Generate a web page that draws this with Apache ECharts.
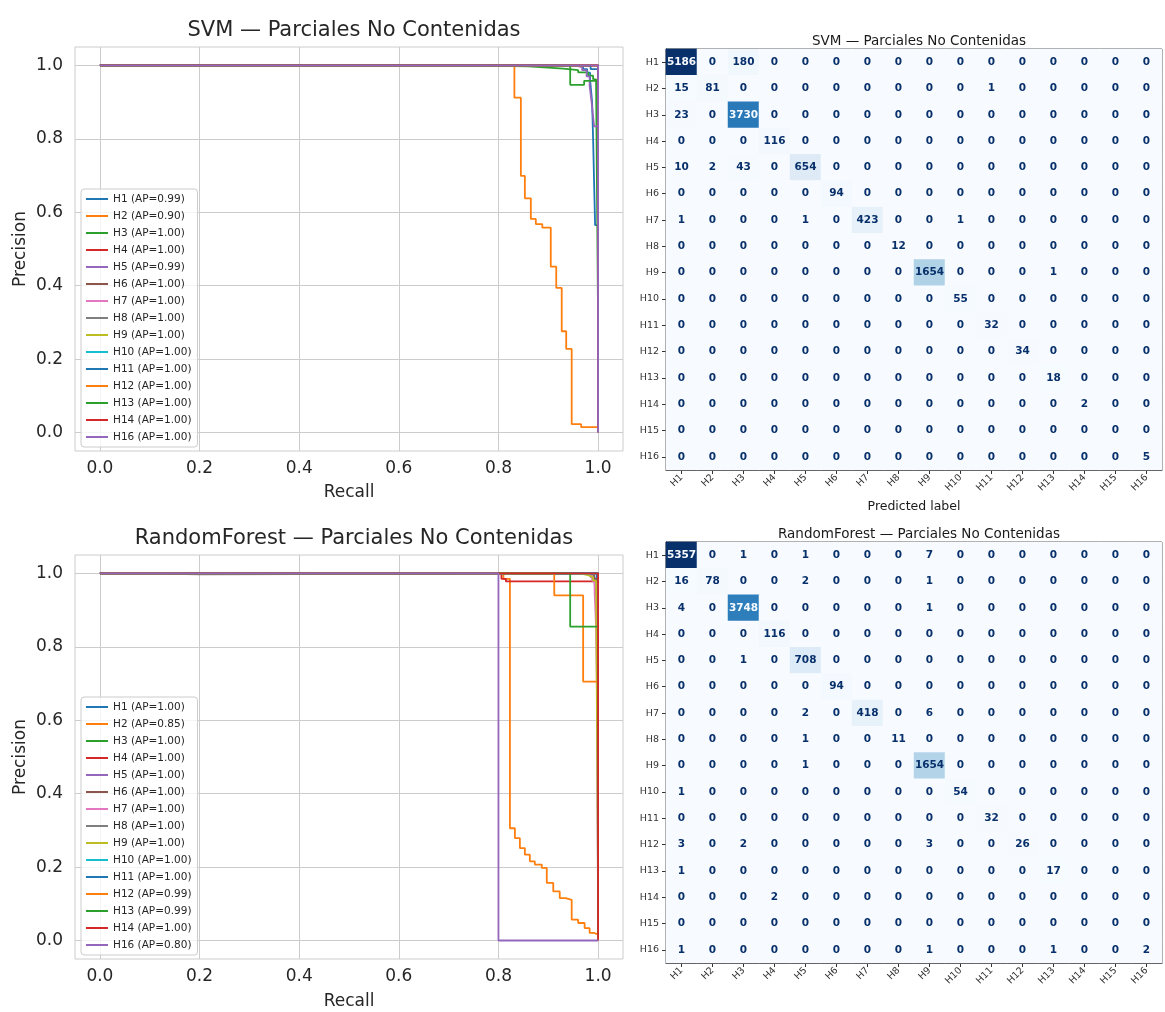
<!DOCTYPE html>
<html>
<head>
<meta charset="utf-8">
<title>Parciales No Contenidas — SVM vs RandomForest</title>
<script src="https://cdn.jsdelivr.net/npm/echarts@6/dist/echarts.min.js"></script>
<style>
  html, body { margin: 0; padding: 0; background: #ffffff; }
  #main { width: 1165px; height: 1012px; }
</style>
</head>
<body>
<div id="main"></div>
<script>
// ---------- labels ----------
const classNames = ['H1','H2','H3','H4','H5','H6','H7','H8','H9','H10','H11','H12','H13','H14','H15','H16'];
const prClasses  = ['H1','H2','H3','H4','H5','H6','H7','H8','H9','H10','H11','H12','H13','H14','H16'];
const prTicks    = [0, 0.2, 0.4, 0.6, 0.8, 1.0];

// ---------- average precision per class ----------
const svmAP = [0.99, 0.90, 1.00, 1.00, 0.99, 1.00, 1.00, 1.00, 1.00, 1.00, 1.00, 1.00, 1.00, 1.00, 1.00];
const rfAP  = [1.00, 0.85, 1.00, 1.00, 1.00, 1.00, 1.00, 1.00, 1.00, 1.00, 1.00, 0.99, 0.99, 1.00, 0.80];

// ---------- SVM precision-recall curves: [recall, precision] ----------
const svmH1  = [[0,1],[0.9,1],[0.95,0.997],[0.97,0.99],[0.978,0.98],[0.984,0.96],[0.988,0.9],[0.99,0.8],[0.992,0.68],[0.994,0.565],[1,0.434]];
const svmH2  = [[0,1],[0.832,0.912],[0.845,0.699],[0.853,0.638],[0.865,0.582],[0.875,0.568],[0.888,0.558],[0.905,0.452],[0.916,0.394],[0.927,0.276],[0.936,0.228],[0.947,0.023],[0.966,0.015],[1,0.011]];
const svmH3  = [[0,1],[0.72,0.999],[0.8,0.997],[0.86,0.994],[0.9,0.991],[0.93,0.987],[0.96,0.981],[0.98,0.972],[0.99,0.962],[0.996,0.952],[1,0.303]];
const svmH4  = [[0,1],[1,0.0094]];
const svmH5  = [[0,1],[0.93,0.999],[0.955,0.995],[0.968,0.987],[0.977,0.97],[0.983,0.945],[0.987,0.9],[0.99,0.86],[0.992,0.834],[1,0.057]];
const svmH6  = [[0,1],[1,0.0076]];
const svmH7  = [[0,1],[0.99,0.998],[1,0.034]];
const svmH8  = [[0,1],[1,0.001]];
const svmH9  = [[0,1],[0.99,0.999],[1,0.134]];
const svmH10 = [[0,1],[1,0.0044]];
const svmH11 = [[0,1],[0.97,0.998],[0.985,0.99],[1,0.0026]];
const svmH12 = [[0,1],[1,0.0027]];
const svmH13 = [[0,1],[0.944,0.947],[0.972,0.958],[1,0.0015]];
const svmH14 = [[0,1],[1,0.0002]];
const svmH16 = [[0,1],[1,0.0004]];

// ---------- RandomForest precision-recall curves: [recall, precision] ----------
const rfH1  = [[0,1],[0.99,1],[0.997,0.998],[1,0.434]];
const rfH2  = [[0,1],[0.81,0.985],[0.823,0.306],[0.833,0.279],[0.843,0.252],[0.853,0.234],[0.863,0.216],[0.873,0.207],[0.887,0.198],[0.897,0.157],[0.91,0.134],[0.923,0.116],[0.935,0.111],[0.947,0.057],[0.96,0.048],[0.973,0.034],[0.983,0.021],[0.993,0.016],[1,0.0078]];
const rfH3  = [[0,1],[0.995,1],[1,0.303]];
const rfH4  = [[0,1],[0.806,0.985],[0.815,0.978],[1,0.0094]];
const rfH5  = [[0,1],[0.97,0.999],[0.985,0.99],[0.993,0.97],[0.997,0.93],[1,0.057]];
const rfH6  = [[0,1],[0.96,0.999],[0.98,0.995],[0.992,0.985],[1,0.0076]];
const rfH7  = [[0,1],[0.96,0.999],[0.978,0.994],[0.988,0.98],[0.993,0.95],[0.996,0.85],[0.998,0.65],[0.999,0.49],[1,0.034]];
const rfH8  = [[0,1],[0.09,0.997],[0.2,1],[1,0.001]];
const rfH9  = [[0,1],[0.94,0.999],[0.965,0.995],[0.98,0.99],[0.99,0.98],[0.996,0.96],[1,0.134]];
const rfH10 = [[0,1],[1,0.0044]];
const rfH11 = [[0,1],[1,0.0026]];
const rfH12 = [[0,1],[0.912,0.94],[0.97,0.705],[1,0.71],[1,0.0027]];
const rfH13 = [[0,1],[0.944,0.855],[1,0.86],[1,0.0015]];
const rfH14 = [[0,1],[1,0.0002]];
const rfH16 = [[0,1],[0.8,0.0004],[1,0.0004]];

const svmCurves = [svmH1,svmH2,svmH3,svmH4,svmH5,svmH6,svmH7,svmH8,svmH9,svmH10,svmH11,svmH12,svmH13,svmH14,svmH16];
const rfCurves  = [rfH1,rfH2,rfH3,rfH4,rfH5,rfH6,rfH7,rfH8,rfH9,rfH10,rfH11,rfH12,rfH13,rfH14,rfH16];

// ---------- confusion matrices (rows = true, cols = predicted) ----------
const svmMatrix = [
  [5186, 0, 180, 0, 0, 0, 0, 0, 0, 0, 0, 0, 0, 0, 0, 0],
  [15, 81, 0, 0, 0, 0, 0, 0, 0, 0, 1, 0, 0, 0, 0, 0],
  [23, 0, 3730, 0, 0, 0, 0, 0, 0, 0, 0, 0, 0, 0, 0, 0],
  [0, 0, 0, 116, 0, 0, 0, 0, 0, 0, 0, 0, 0, 0, 0, 0],
  [10, 2, 43, 0, 654, 0, 0, 0, 0, 0, 0, 0, 0, 0, 0, 0],
  [0, 0, 0, 0, 0, 94, 0, 0, 0, 0, 0, 0, 0, 0, 0, 0],
  [1, 0, 0, 0, 1, 0, 423, 0, 0, 1, 0, 0, 0, 0, 0, 0],
  [0, 0, 0, 0, 0, 0, 0, 12, 0, 0, 0, 0, 0, 0, 0, 0],
  [0, 0, 0, 0, 0, 0, 0, 0, 1654, 0, 0, 0, 1, 0, 0, 0],
  [0, 0, 0, 0, 0, 0, 0, 0, 0, 55, 0, 0, 0, 0, 0, 0],
  [0, 0, 0, 0, 0, 0, 0, 0, 0, 0, 32, 0, 0, 0, 0, 0],
  [0, 0, 0, 0, 0, 0, 0, 0, 0, 0, 0, 34, 0, 0, 0, 0],
  [0, 0, 0, 0, 0, 0, 0, 0, 0, 0, 0, 0, 18, 0, 0, 0],
  [0, 0, 0, 0, 0, 0, 0, 0, 0, 0, 0, 0, 0, 2, 0, 0],
  [0, 0, 0, 0, 0, 0, 0, 0, 0, 0, 0, 0, 0, 0, 0, 0],
  [0, 0, 0, 0, 0, 0, 0, 0, 0, 0, 0, 0, 0, 0, 0, 5]
];
const rfMatrix = [
  [5357, 0, 1, 0, 1, 0, 0, 0, 7, 0, 0, 0, 0, 0, 0, 0],
  [16, 78, 0, 0, 2, 0, 0, 0, 1, 0, 0, 0, 0, 0, 0, 0],
  [4, 0, 3748, 0, 0, 0, 0, 0, 1, 0, 0, 0, 0, 0, 0, 0],
  [0, 0, 0, 116, 0, 0, 0, 0, 0, 0, 0, 0, 0, 0, 0, 0],
  [0, 0, 1, 0, 708, 0, 0, 0, 0, 0, 0, 0, 0, 0, 0, 0],
  [0, 0, 0, 0, 0, 94, 0, 0, 0, 0, 0, 0, 0, 0, 0, 0],
  [0, 0, 0, 0, 2, 0, 418, 0, 6, 0, 0, 0, 0, 0, 0, 0],
  [0, 0, 0, 0, 1, 0, 0, 11, 0, 0, 0, 0, 0, 0, 0, 0],
  [0, 0, 0, 0, 1, 0, 0, 0, 1654, 0, 0, 0, 0, 0, 0, 0],
  [1, 0, 0, 0, 0, 0, 0, 0, 0, 54, 0, 0, 0, 0, 0, 0],
  [0, 0, 0, 0, 0, 0, 0, 0, 0, 0, 32, 0, 0, 0, 0, 0],
  [3, 0, 2, 0, 0, 0, 0, 0, 3, 0, 0, 26, 0, 0, 0, 0],
  [1, 0, 0, 0, 0, 0, 0, 0, 0, 0, 0, 0, 17, 0, 0, 0],
  [0, 0, 0, 2, 0, 0, 0, 0, 0, 0, 0, 0, 0, 0, 0, 0],
  [0, 0, 0, 0, 0, 0, 0, 0, 0, 0, 0, 0, 0, 0, 0, 0],
  [1, 0, 0, 0, 0, 0, 0, 0, 1, 0, 0, 0, 1, 0, 0, 2]
];

// ---------- styling ----------
const FONT = 'DejaVu Sans';
const tab10 = ['#1f77b4','#ff7f0e','#2ca02c','#d62728','#9467bd','#8c564b','#e377c2','#7f7f7f','#bcbd22','#17becf'];
const blues = ['#f7fbff','#deebf7','#c6dbef','#9ecae1','#6baed6','#4292c6','#2171b5','#08519c','#08306b'];
const INK = '#262626';

function prName(cls, ap) { return cls + ' (AP=' + ap.toFixed(2) + ')'; }

function prSeries(curves, ap, axisIndex) {
  return prClasses.map((cls, i) => ({
    type: 'line',
    name: prName(cls, ap[i]),
    xAxisIndex: axisIndex,
    yAxisIndex: axisIndex,
    data: curves[i],
    step: 'end',
    symbol: 'none',
    showSymbol: false,
    lineStyle: { width: 1.8, color: tab10[i % 10] },
    itemStyle: { color: tab10[i % 10] },
    emphasis: { disabled: true },
    silent: true,
    animation: false
  }));
}

function heatCells(matrix) {
  const flat = matrix.flat();
  const hi = Math.max(...flat), lo = Math.min(...flat);
  const thr = (hi + lo) / 2;
  const cells = [];
  matrix.forEach((row, r) => row.forEach((v, c) => {
    cells.push({ value: [c, r, v], label: { color: v > thr ? '#f7fbff' : '#08306b' } });
  }));
  return { cells, hi, lo };
}

const svmHeat = heatCells(svmMatrix);
const rfHeat  = heatCells(rfMatrix);

function prXAxis(gridIndex, gap) {
  return {
    gridIndex, type: 'value', min: -0.05, max: 1.05,
    axisLine: { show: false },
    axisTick: { show: false, customValues: prTicks },
    axisLabel: { customValues: prTicks, formatter: v => v.toFixed(1), fontSize: 17, color: INK, margin: 9, fontFamily: FONT },
    splitLine: { show: true, lineStyle: { color: '#cccccc', width: 1 } },
    name: 'Recall', nameLocation: 'middle', nameGap: gap,
    nameTextStyle: { fontSize: 17, color: INK, fontFamily: FONT }
  };
}
function prYAxis(gridIndex) {
  return {
    gridIndex, type: 'value', min: -0.05, max: 1.05,
    axisLine: { show: false },
    axisTick: { show: false, customValues: prTicks },
    axisLabel: { customValues: prTicks, formatter: v => v.toFixed(1), fontSize: 17, color: INK, margin: 12, fontFamily: FONT },
    splitLine: { show: true, lineStyle: { color: '#cccccc', width: 1 } },
    name: 'Precision', nameLocation: 'middle', nameGap: 46, nameRotate: 90,
    nameTextStyle: { fontSize: 17, color: INK, fontFamily: FONT }
  };
}
function cmXAxis(gridIndex, withName) {
  const ax = {
    gridIndex, type: 'category', data: classNames, position: 'bottom',
    axisLine: { show: true, lineStyle: { color: '#333333', width: 1 } },
    axisTick: { show: true, alignWithLabel: true, length: 4, lineStyle: { color: '#333333' } },
    axisLabel: { rotate: 45, fontSize: 9.5, color: '#333333', margin: 6, fontFamily: FONT, interval: 0 },
    splitLine: { show: false }, splitArea: { show: false }
  };
  if (withName) {
    ax.name = 'Predicted label';
    ax.nameLocation = 'middle';
    ax.nameGap = 30;
    ax.nameTextStyle = { fontSize: 12.5, color: '#1a1a1a', fontFamily: FONT };
  }
  return ax;
}
function cmYAxis(gridIndex) {
  return {
    gridIndex, type: 'category', data: classNames, inverse: true,
    axisLine: { show: true, lineStyle: { color: '#333333', width: 1 } },
    axisTick: { show: true, alignWithLabel: true, length: 4, lineStyle: { color: '#333333' } },
    axisLabel: { fontSize: 9.5, color: '#333333', margin: 7, fontFamily: FONT, interval: 0 },
    splitLine: { show: false }, splitArea: { show: false }
  };
}

function legendFor(curvesAP, top) {
  return {
    data: prClasses.map((c, i) => prName(c, curvesAP[i])),
    orient: 'vertical', left: 81, top: top,
    icon: 'rect',
    itemWidth: 22, itemHeight: 2, itemGap: 5,
    padding: [4, 6, 4, 5],
    backgroundColor: 'rgba(255,255,255,0.8)',
    borderColor: '#cccccc', borderWidth: 1, borderRadius: 3,
    selectedMode: false,
    textStyle: { fontSize: 10.5, lineHeight: 12, color: INK, fontFamily: FONT }
  };
}

function heatSeries(heat, axisIndex) {
  return {
    type: 'heatmap', xAxisIndex: axisIndex, yAxisIndex: axisIndex,
    data: heat.cells,
    label: { show: true, formatter: p => String(p.value[2]), fontSize: 10.5, fontWeight: 'bold', fontFamily: FONT },
    emphasis: { disabled: true }, silent: true, animation: false
  };
}

const series = [].concat(
  prSeries(svmCurves, svmAP, 0),
  prSeries(rfCurves, rfAP, 1),
  [heatSeries(svmHeat, 2), heatSeries(rfHeat, 3)]
);
const svmHeatIndex = series.length - 2;
const rfHeatIndex = series.length - 1;

const option = {
  backgroundColor: '#ffffff',
  animation: false,
  textStyle: { fontFamily: FONT },
  title: [
    { text: 'SVM — Parciales No Contenidas', left: 349, top: 15, textAlign: 'center',
      textStyle: { fontSize: 21, fontWeight: 'normal', color: INK, fontFamily: FONT } },
    { text: 'RandomForest — Parciales No Contenidas', left: 349, top: 523, textAlign: 'center',
      textStyle: { fontSize: 21, fontWeight: 'normal', color: INK, fontFamily: FONT } },
    { text: 'SVM — Parciales No Contenidas', left: 914, top: 29, textAlign: 'center',
      textStyle: { fontSize: 13.5, fontWeight: 'normal', color: '#1a1a1a', fontFamily: FONT } },
    { text: 'RandomForest — Parciales No Contenidas', left: 914, top: 522, textAlign: 'center',
      textStyle: { fontSize: 13.5, fontWeight: 'normal', color: '#1a1a1a', fontFamily: FONT } }
  ],
  grid: [
    { left: 75, top: 47, width: 548, height: 404, show: true, borderColor: '#cccccc', borderWidth: 1, backgroundColor: '#ffffff' },
    { left: 75, top: 555, width: 548, height: 404, show: true, borderColor: '#cccccc', borderWidth: 1, backgroundColor: '#ffffff' },
    { left: 666, top: 49, width: 496, height: 421, show: true, borderColor: '#333333', borderWidth: 1 },
    { left: 666, top: 542, width: 496, height: 421, show: true, borderColor: '#333333', borderWidth: 1 }
  ],
  xAxis: [prXAxis(0, 33), prXAxis(1, 34), cmXAxis(2, true), cmXAxis(3, false)],
  yAxis: [prYAxis(0), prYAxis(1), cmYAxis(2), cmYAxis(3)],
  legend: [legendFor(svmAP, 189), legendFor(rfAP, 697)],
  visualMap: [
    { type: 'continuous', show: false, seriesIndex: svmHeatIndex, dimension: 2,
      min: svmHeat.lo, max: svmHeat.hi, inRange: { color: blues } },
    { type: 'continuous', show: false, seriesIndex: rfHeatIndex, dimension: 2,
      min: rfHeat.lo, max: rfHeat.hi, inRange: { color: blues } }
  ],
  series: series
};

const chart = echarts.init(document.getElementById('main'), null, { renderer: 'canvas' });
chart.setOption(option);
</script>
</body>
</html>
